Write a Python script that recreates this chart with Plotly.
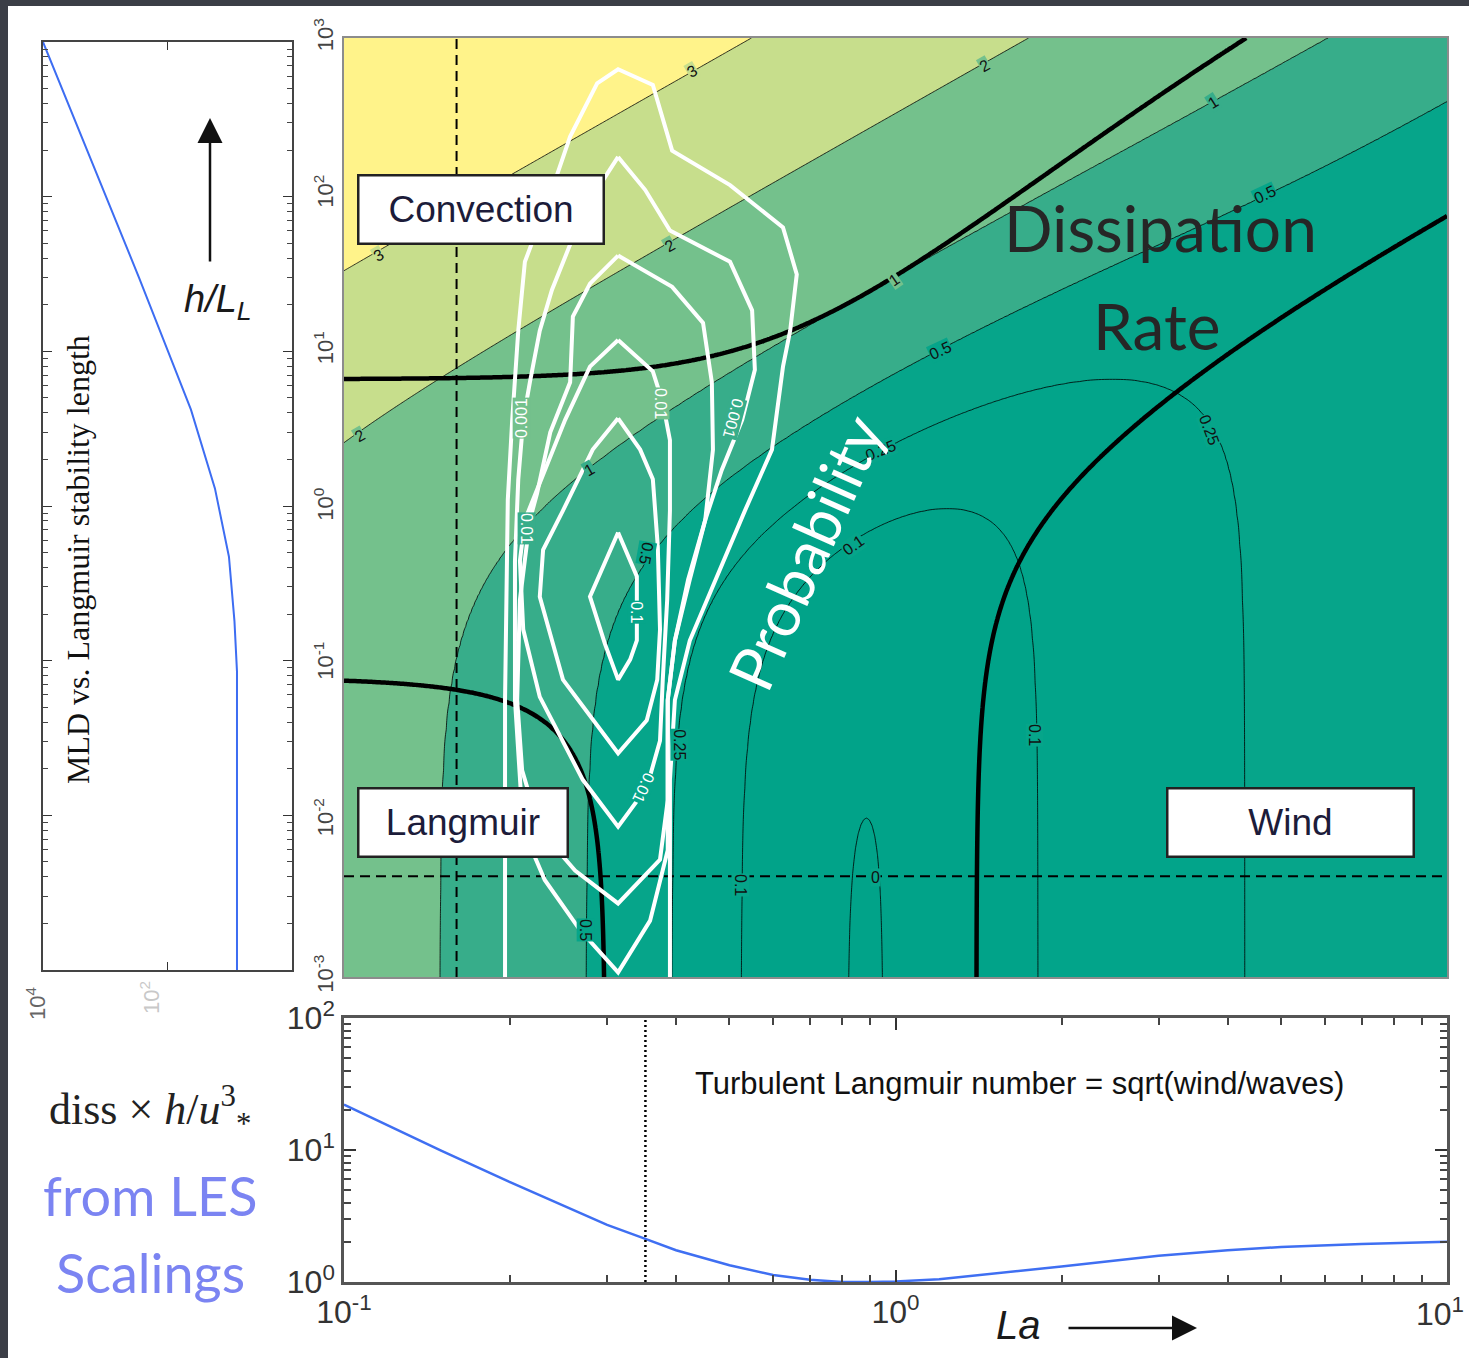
import numpy as np
import plotly.graph_objects as go

W, H = 1469, 1358

# ---------------------------------------------------------------------------
# Data
# ---------------------------------------------------------------------------
# LES dissipation scaling:  eps*h/u*^3 = wind + Langmuir + convection terms
WIND_COEF = 2.0            # 2 * (1 - exp(-La/2))
WIND_DECAY = 0.5
LANGMUIR_COEF = 0.22       # 0.22 / La^2
CONVECTION_COEF = 0.3      # 0.3 * (h/L_L) / La^2
REGIME_FRACTION = 0.9      # one term supplies 90 % of the total

la_limits = [0.1, 10.0]
hl_limits = [1e-3, 1e3]

# filled-contour levels of log10(eps*h/u*^3) and the fill colours of the bands
diss_levels = [0, 0.1, 0.25, 0.5, 1, 2, 3]
band_colors = ["#01a389", "#01a389", "#02a48a", "#06a58a",
               "#37ad8a", "#74c18c", "#c7de8c", "#fff38a"]

# contour labels: text, log10 La, log10 h/L_L, rotation, background band
clabel_text = ["3", "3", "2", "2", "2", "1", "1", "1", "0.5", "0.5", "0.5",
               "0.25", "0.25", "0.25", "0.1", "0.1", "0.1", "0", "0.5"]
clabel_logla = [-0.369, -0.938, 0.162, -0.409, -0.971, 0.576, -0.001, -0.554,
                0.670, 0.081, -0.451, -0.028, 0.570, -0.391, -0.077, 0.253,
                -0.282, -0.037, -0.561]
clabel_loghl = [2.783, 1.613, 2.827, 1.677, 0.463, 2.585, 1.454, 0.240,
                1.997, 1.006, -0.291, 0.367, 0.495, -1.518, -0.240, -1.454,
                -2.412, -2.361, -2.700]
clabel_angle = [-30, -30, -30, -30, -30, -32, -35, -30, -25, -25, 100,
                -22, 70, 90, -35, 90, 90, 0, 90]
clabel_band = [6, 6, 5, 5, 5, 4, 5, 4, 3, 3, 3, 3, 3, 3, 3, 3, 3, 3, 3]

# reference lines
la_dashed = 0.16
hl_dashed = 0.0044
la_dotted = 0.352

# probability contours of the observed (La, h/L_L) distribution (log10 units)
prob_logla = {
    "a": [-0.708, -0.708, -0.703, -0.695, -0.684, -0.672, -0.623, -0.590, -0.541,
          -0.503, -0.440, -0.405, -0.300, -0.204, -0.179, -0.191, -0.204, -0.224,
          -0.273, -0.318, -0.373, -0.400, -0.409, -0.409],
    "b": [-0.503, -0.454, -0.409, -0.300, -0.260, -0.255, -0.278, -0.315, -0.345,
          -0.376, -0.400, -0.413, -0.413, -0.445, -0.503, -0.572, -0.636, -0.675,
          -0.690, -0.690, -0.684, -0.675, -0.663, -0.645, -0.623, -0.590, -0.536,
          -0.503],
    "c": [-0.503, -0.445, -0.405, -0.349, -0.333, -0.331, -0.345, -0.373, -0.400,
          -0.413, -0.413, -0.427, -0.503, -0.581, -0.645, -0.677, -0.686, -0.681,
          -0.663, -0.650, -0.626, -0.590, -0.585, -0.554, -0.503],
    "d": [-0.503, -0.440, -0.422, -0.409, -0.409, -0.414, -0.422, -0.427, -0.451,
          -0.503, -0.567, -0.645, -0.675, -0.681, -0.672, -0.636, -0.599, -0.554,
          -0.503],
    "e": [-0.503, -0.463, -0.440, -0.431, -0.427, -0.432, -0.451, -0.503, -0.603,
          -0.645, -0.639, -0.603, -0.549, -0.503],
    "f": [-0.503, -0.469, -0.469, -0.481, -0.503, -0.527, -0.554, -0.503],
}
prob_loghl = {
    "a": [-3.00, -1.23, 0.05, 0.56, 1.13, 1.57, 2.03, 2.37, 2.71, 2.80, 2.70, 2.28,
          2.06, 1.79, 1.49, 1.13, 0.90, 0.37, -0.02, -0.40, -0.85, -1.23, -1.74,
          -3.00],
    "b": [2.24, 2.03, 1.77, 1.57, 1.26, 0.88, 0.56, 0.24, -0.08, -0.46, -0.85,
          -1.23, -2.19, -2.64, -2.97, -2.70, -2.38, -2.06, -1.23, -0.34, 0.18, 0.56,
          0.80, 1.13, 1.39, 1.68, 2.06, 2.24],
    "c": [1.61, 1.49, 1.41, 1.18, 0.80, 0.37, -0.08, -0.46, -0.85, -1.23, -1.87,
          -2.25, -2.53, -2.32, -2.06, -1.68, -1.23, -0.59, -0.08, 0.09, 0.48, 0.80,
          1.22, 1.43, 1.61],
    "d": [1.07, 0.87, 0.67, 0.43, -0.02, -0.59, -1.10, -1.49, -1.79, -2.04, -1.74,
          -1.21, -0.78, -0.34, -0.08, 0.24, 0.56, 0.90, 1.07],
    "e": [0.57, 0.37, 0.18, -0.25, -0.78, -1.10, -1.36, -1.57, -1.10, -0.57,
          -0.27, -0.02, 0.37, 0.57],
    "f": [-0.16, -0.44, -0.85, -0.97, -1.10, -0.87, -0.57, -0.16],
}
plabel_text = ["0.001", "0.001", "0.01", "0.01", "0.1", "0.01"]
plabel_logla = [-0.677, -0.295, -0.427, -0.668, -0.469, -0.458]
plabel_loghl = [0.572, 0.572, 0.668, -0.131, -0.668, -1.792]
plabel_angle = [-90, 105, 90, 90, 90, 115]
plabel_band = [5, 4, 5, 4, 3, 3]

# dissipation without convection, diss*h/u*^3 against La
la_line = [0.1, 0.12, 0.15, 0.2, 0.25, 0.3, 0.35, 0.4, 0.5, 0.6, 0.7, 0.8,
           0.9, 1.0, 1.2, 1.5, 2.0, 3.0, 4.0, 5.0, 7.0, 10.0]
diss_line = [22.1, 15.4, 9.9, 5.7, 3.76, 2.71, 2.14, 1.74, 1.34, 1.13, 1.04,
             1.00, 1.00, 1.01, 1.05, 1.15, 1.31, 1.58, 1.74, 1.84, 1.94, 2.02]

# mixed-layer depth against h/L_L
mld_x = [10000, 1960, 580, 287, 98, 42, 17.3, 10.3, 8.4, 7.65, 7.65]
mld_hl = [1000, 200, 60, 30, 10, 4.2, 1.3, 0.47, 0.18, 0.085, 0.001]

# ---------------------------------------------------------------------------
# Dissipation field on a log grid
# ---------------------------------------------------------------------------
la = np.logspace(np.log10(la_limits[0]), np.log10(la_limits[1]), 400)
hl = np.logspace(np.log10(hl_limits[0]), np.log10(hl_limits[1]), 400)
LA, HL = np.meshgrid(la, hl)
wind = WIND_COEF * (1 - np.exp(-WIND_DECAY * LA))
lang = LANGMUIR_COEF / LA**2
conv = CONVECTION_COEF * HL / LA**2
total = wind + lang + conv
logdiss = np.log10(total)


def band_index(z):
    lv = np.asarray(diss_levels, float)
    idx = np.interp(z, lv, np.arange(len(lv)))
    idx = np.where(z < lv[0], (z - lv[0]) / (lv[1] - lv[0]), idx)
    idx = np.where(z > lv[-1], len(lv) - 1 + (z - lv[-1]) / (lv[-1] - lv[-2]), idx)
    return idx


nb = len(band_colors)
colorscale = [[i / (nb - 1), c] for i, c in enumerate(band_colors)]

# ---------------------------------------------------------------------------
# Layout helpers (pixel -> paper fraction)
# ---------------------------------------------------------------------------
def px(x):
    return x / W


def py(y):
    return 1 - y / H


SANS = "Liberation Sans, Arial, sans-serif"
NARROW = "Liberation Sans Narrow, Liberation Sans, Arial, sans-serif"
SERIF = "Liberation Serif, Times New Roman, serif"
HAND = "Lato, sans-serif"

fig = go.Figure()

# filled dissipation contours with thin level lines
fig.add_trace(go.Contour(
    x=la, y=hl, z=band_index(logdiss), xaxis="x", yaxis="y",
    colorscale=colorscale, showscale=False, autocontour=False,
    contours=dict(coloring="fill", start=0, end=len(diss_levels) - 1, size=1,
                  showlabels=False),
    line=dict(color="black", width=0.8), hoverinfo="skip",
))

# regime boundaries: one term dominates
for term in (wind, lang, conv):
    fig.add_trace(go.Contour(
        x=la, y=hl, z=term / total, xaxis="x", yaxis="y", showscale=False,
        autocontour=False,
        contours=dict(coloring="none", start=REGIME_FRACTION,
                      end=REGIME_FRACTION, size=0.1),
        line=dict(color="black", width=4.5), hoverinfo="skip",
    ))

# dashed reference lines
fig.add_trace(go.Scatter(x=[la_dashed, la_dashed], y=hl_limits, mode="lines",
                         xaxis="x", yaxis="y",
                         line=dict(color="black", width=2, dash="10px,6px"),
                         hoverinfo="skip"))
fig.add_trace(go.Scatter(x=la_limits, y=[hl_dashed, hl_dashed], mode="lines",
                         xaxis="x", yaxis="y",
                         line=dict(color="black", width=2, dash="10px,6px"),
                         hoverinfo="skip"))

# probability contours
for key in prob_logla:
    fig.add_trace(go.Scatter(
        x=10 ** np.array(prob_logla[key]), y=10 ** np.array(prob_loghl[key]),
        mode="lines", xaxis="x", yaxis="y",
        line=dict(color="white", width=4), hoverinfo="skip"))

# left panel: MLD vs Langmuir stability length
fig.add_trace(go.Scatter(x=mld_x, y=mld_hl, mode="lines", xaxis="x2", yaxis="y2",
                         line=dict(color="#3d6df2", width=2), hoverinfo="skip"))

# bottom panel: dissipation against La
fig.add_trace(go.Scatter(x=la_line, y=diss_line, mode="lines", xaxis="x3", yaxis="y3",
                         line=dict(color="#3f6ff2", width=2.5), hoverinfo="skip"))
fig.add_trace(go.Scatter(x=[la_dotted, la_dotted], y=[1, 100], mode="lines",
                         xaxis="x3", yaxis="y3",
                         line=dict(color="black", width=2.5, dash="2px,3px"),
                         hoverinfo="skip"))

# ---------------------------------------------------------------------------
# Axes
# ---------------------------------------------------------------------------
main_x = [px(344), px(1447)]
main_y = [py(977), py(38)]
left_x = [px(43), px(292)]
left_y = [py(970), py(42)]
bot_y = [py(1282), py(1018)]

decades = [1e-3, 1e-2, 1e-1, 1, 1e1, 1e2, 1e3]
dec_text = ["10<sup>-3</sup>", "10<sup>-2</sup>", "10<sup>-1</sup>", "10<sup>0</sup>",
            "10<sup>1</sup>", "10<sup>2</sup>", "10<sup>3</sup>"]

minor_ticks = dict(ticks="inside", ticklen=6, tickcolor="#444", dtick="D1")

fig.update_layout(
    width=W, height=H, margin=dict(l=0, r=0, t=0, b=0, pad=0, autoexpand=False),
    paper_bgcolor="#3b3e46", plot_bgcolor="white", showlegend=False,
    xaxis=dict(domain=main_x, anchor="y", type="log", range=[-1, 1],
               automargin=False,
               showticklabels=False, ticks="", showgrid=False, zeroline=False,
               showline=True, mirror=True, linecolor="#8c8c8c", linewidth=2),
    yaxis=dict(domain=main_y, anchor="x", type="log", range=[-3, 3],
               automargin=False, ticklabeloverflow="allow",
               tickvals=decades, ticktext=dec_text, tickangle=-90, ticks="",
               tickfont=dict(family=NARROW, size=22, color="#444"),
               showgrid=False, zeroline=False,
               showline=True, mirror=True, linecolor="#8c8c8c", linewidth=2),
    xaxis2=dict(domain=left_x, anchor="y2", type="log", range=[4, 0],
                automargin=False,
                tickvals=[100, 10000], showticklabels=False,
                ticks="inside", ticklen=8, tickcolor="#333", mirror="allticks",
                showgrid=False, zeroline=False, showline=True,
                linecolor="#444", linewidth=1.5),
    yaxis2=dict(domain=left_y, anchor="x2", type="log", range=[-3, 3],
                automargin=False,
                tickvals=decades, showticklabels=False,
                ticks="inside", ticklen=9, tickcolor="#333", mirror="allticks",
                minor=dict(minor_ticks, ticklen=5),
                showgrid=False, zeroline=False, showline=True,
                linecolor="#444", linewidth=1.5),
    xaxis3=dict(domain=main_x, anchor="y3", type="log", range=[-1, 1],
                automargin=False, ticklabeloverflow="allow",
                tickvals=[0.1, 1, 10],
                ticktext=["10<sup>-1</sup>", "10<sup>0</sup>", ""],
                tickfont=dict(family=NARROW, size=32, color="#333"),
                ticks="inside", ticklen=12, tickwidth=1.5, tickcolor="#333",
                minor=dict(minor_ticks, ticklen=7),
                mirror="allticks", showgrid=False, zeroline=False,
                showline=True, linecolor="#555", linewidth=2.5),
    yaxis3=dict(domain=bot_y, anchor="x3", type="log", range=[0, 2],
                automargin=False, ticklabeloverflow="allow",
                tickvals=[1, 10, 100],
                ticktext=["10<sup>0</sup>", "10<sup>1</sup>", "10<sup>2</sup>"],
                tickfont=dict(family=NARROW, size=32, color="#333"),
                ticks="inside", ticklen=12, tickwidth=1.5, tickcolor="#333",
                minor=dict(minor_ticks, ticklen=7),
                mirror="allticks", showgrid=False, zeroline=False,
                showline=True, linecolor="#555", linewidth=2.5),
)

# white slide area
fig.add_shape(type="rect", xref="paper", yref="paper", x0=px(8), x1=1,
              y0=0, y1=py(6), fillcolor="white", line=dict(width=0), layer="below")

# ---------------------------------------------------------------------------
# Annotations
# ---------------------------------------------------------------------------
ann = []


def text(t, x, y, size, color="#222", family=SANS, angle=0, **kw):
    d = dict(x=px(x), y=py(y), xref="paper", yref="paper", text=t, showarrow=False,
             font=dict(family=family, size=size, color=color), textangle=angle,
             xanchor="center", yanchor="middle")
    d.update(kw)
    ann.append(d)


# dissipation contour labels
for t, lx, ly, a, b in zip(clabel_text, clabel_logla, clabel_loghl, clabel_angle,
                           clabel_band):
    ann.append(dict(x=lx, y=ly, xref="x", yref="y", text=t, showarrow=False,
                    textangle=a, bgcolor=band_colors[b], borderpad=0,
                    font=dict(family=SANS, size=16, color="#111")))

# probability contour labels
for t, lx, ly, a, b in zip(plabel_text, plabel_logla, plabel_loghl, plabel_angle,
                           plabel_band):
    ann.append(dict(x=lx, y=ly, xref="x", yref="y", text=t, showarrow=False,
                    textangle=a, bgcolor=band_colors[b], borderpad=0,
                    font=dict(family=SANS, size=16, color="white")))

# regime boxes
for t, lx, ly, w in [("Convection", -0.7525, 1.901, 243),
                     ("Langmuir", -0.785, -2.010, 207),
                     ("Wind", 0.717, -2.010, 244)]:
    ann.append(dict(x=lx, y=ly, xref="x", yref="y", text=t, showarrow=False,
                    width=w, height=66, bgcolor="white", bordercolor="#222",
                    borderwidth=2.5, borderpad=0, align="center",
                    font=dict(family=SANS, size=37, color="#1c1c3a")))

text("Dissipation", 1160, 228, 64, color="#262626", family=HAND)
text("Rate", 1157, 325, 64, color="#262626", family=HAND)
text("Probability", 805, 552, 62, color="white", family=HAND, angle=-66)

# left panel texts
text("MLD vs. Langmuir stability length", 78, 560, 32, color="#111",
     family=SERIF, angle=-90)
text("<i>h/L<sub>L</sub></i>", 218, 302, 38, color="#1a1a1a")
ann.append(dict(x=px(210), y=py(118), xref="paper", yref="paper", text="",
                showarrow=True, ax=0, ay=145, arrowhead=2, arrowsize=2,
                arrowwidth=2.5, arrowcolor="#111"))
text("10<sup>4</sup>", 36, 1004, 22, color="#666", family=NARROW, angle=-90)
text("10<sup>2</sup>", 150, 998, 22, color="#c8c8c8", family=NARROW, angle=-90)

# bottom panel texts
text("10<sup>1</sup>", 1466, 1312, 32, color="#333", family=NARROW,
     xanchor="right")
text("Turbulent Langmuir number = sqrt(wind/waves)", 693, 1083, 31,
     color="#111", family=NARROW, xanchor="left")
text("diss × <i>h</i>/<i>u</i><sup>3</sup><sub>*</sub>", 150, 1110, 44,
     color="#222", family=SERIF)
text("from LES", 150, 1195, 54, color="#7b84f2", family=HAND)
text("Scalings", 150, 1272, 54, color="#7b84f2", family=HAND)
text("<i>La</i>", 1018, 1325, 40, color="#1a1a1a")
ann.append(dict(x=px(1197), y=py(1328), xref="paper", yref="paper", text="",
                showarrow=True, ax=-130, ay=0, arrowhead=2, arrowsize=2,
                arrowwidth=2.5, arrowcolor="#111"))

fig.update_layout(annotations=ann)

fig.write_html("out.html")
